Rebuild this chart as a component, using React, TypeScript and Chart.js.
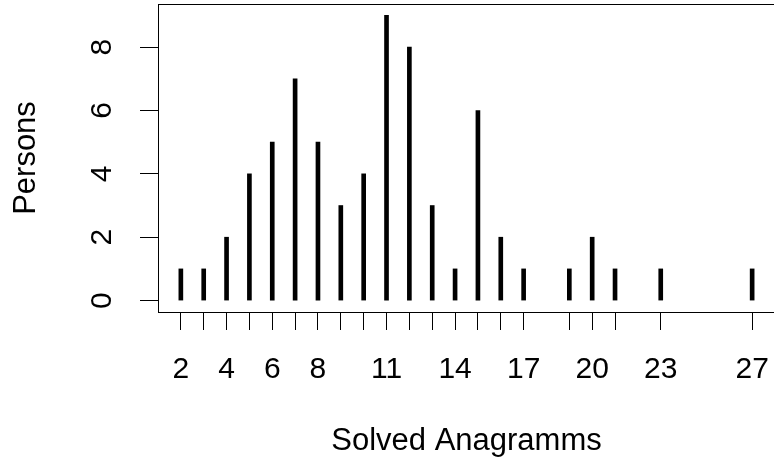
import { useEffect, useRef } from 'react';
import { Chart, registerables } from 'chart.js';

Chart.register(...registerables);

const categories = [2, 3, 4, 5, 6, 7, 8, 9, 10, 11, 12, 13, 14, 15, 16, 17, 19, 20, 21, 23, 27];
const persons = [1, 1, 2, 4, 5, 7, 5, 3, 4, 9, 8, 3, 1, 6, 2, 1, 1, 2, 1, 1, 1];
const xLabelValues = [2, 4, 6, 8, 11, 14, 17, 20, 23, 27];
const yTickValues = [0, 2, 4, 6, 8];
const xTitle = 'Solved Anagramms';
const yTitle = 'Persons';

const FONT = "'Liberation Sans', Arial, sans-serif";

export default function App() {
  const ref = useRef<HTMLCanvasElement>(null);

  useEffect(() => {
    if (!ref.current) return;
    const boxPlugin = {
      id: 'rbox',
      afterDraw(chart: any) {
        const { ctx, chartArea: a } = chart;
        ctx.save();
        ctx.strokeStyle = '#000';
        ctx.lineWidth = 1;
        ctx.strokeRect(
          Math.round(a.left) + 0.5,
          Math.round(a.top) + 0.5,
          Math.round(a.right - a.left),
          Math.round(a.bottom - a.top)
        );
        ctx.restore();
      },
    };

    const chart = new Chart(ref.current, {
      type: 'bar',
      data: {
        datasets: [
          {
            data: categories.map((c, i) => ({ x: c, y: persons[i] })),
            backgroundColor: '#000',
            borderWidth: 0,
            barThickness: 4,
          },
        ],
      },
      options: {
        animation: false,
        responsive: false,
        layout: { padding: { top: 4, right: 15, left: 0, bottom: 0 } },
        plugins: { legend: { display: false }, tooltip: { enabled: false } },
        scales: {
          x: {
            type: 'linear',
            min: 1,
            max: 28,
            offset: false,
            afterBuildTicks: (s: any) => {
              s.ticks = categories.map((v) => ({ value: v }));
            },
            afterFit: (s: any) => {
              s.height = 158;
              s.paddingLeft = 0;
              s.paddingRight = 0;
            },
            grid: {
              offset: false,
              drawOnChartArea: false,
              drawTicks: true,
              tickLength: 18,
              color: '#000',
              lineWidth: 1,
            },
            border: { display: true, color: '#000', width: 1 },
            ticks: {
              autoSkip: false,
              maxRotation: 0,
              minRotation: 0,
              padding: 22,
              color: '#000',
              font: { family: FONT, size: 30 },
              callback: (v: any) => (xLabelValues.includes(Number(v)) ? String(v) : ''),
            },
            title: {
              display: true,
              text: xTitle,
              color: '#000',
              font: { family: FONT, size: 31 },
              padding: { top: 0, bottom: 10 },
            },
          },
          y: {
            type: 'linear',
            min: -0.36,
            max: 9.36,
            afterBuildTicks: (s: any) => {
              s.ticks = yTickValues.map((v) => ({ value: v }));
            },
            afterFit: (s: any) => {
              s.width = 158;
              s.paddingTop = 0;
              s.paddingBottom = 0;
            },
            grid: {
              drawOnChartArea: false,
              drawTicks: true,
              tickLength: 18,
              color: '#000',
              lineWidth: 1,
            },
            border: { display: true, color: '#000', width: 1 },
            ticks: {
              minRotation: 90,
              maxRotation: 90,
              crossAlign: 'center',
              padding: 29,
              color: '#000',
              font: { family: FONT, size: 30 },
              callback: (v: any) => String(v),
            },
            title: {
              display: true,
              text: yTitle,
              color: '#000',
              font: { family: FONT, size: 31 },
              padding: { top: 8, bottom: 0 },
            },
          },
        },
      } as any,
      plugins: [boxPlugin],
    });
    return () => chart.destroy();
  }, []);

  return (
    <div
      style={{
        position: 'fixed',
        left: 0,
        top: 0,
        width: 774,
        height: 470,
        overflow: 'hidden',
        background: '#fff',
      }}
    >
      <canvas ref={ref} width={790} height={470} style={{ display: 'block' }} />
    </div>
  );
}
